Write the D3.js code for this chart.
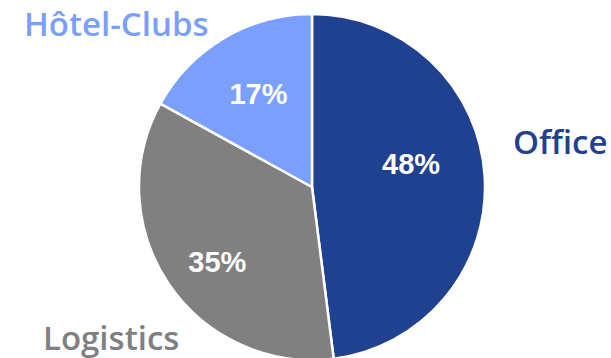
<!DOCTYPE html>
<html>
<head>
<meta charset="utf-8">
<script src="https://cdn.jsdelivr.net/npm/d3@7"></script>
<style>
  html, body { margin: 0; padding: 0; background: #fff; overflow: hidden; }
  svg { display: block; }
</style>
</head>
<body>
<svg id="chart" width="611" height="358"></svg>
<script>
// Portfolio split by asset class
const categories = ["Office", "Logistics", "Hôtel-Clubs"];
const shares = [48, 35, 17];
const sliceColors = ["#1f4190", "#808080", "#7b9fff"];

const width = 611, height = 358;
const cx = 312, cy = 187, radius = 173;

const svg = d3.select("#chart");
const g = svg.append("g").attr("transform", `translate(${cx},${cy})`);

const pie = d3.pie().sort(null).value(d => d.value);
const arcs = pie(categories.map((c, i) => ({ name: c, value: shares[i], color: sliceColors[i] })));

const arc = d3.arc().innerRadius(0).outerRadius(radius);

g.selectAll("path.slice")
  .data(arcs)
  .join("path")
  .attr("class", "slice")
  .attr("d", arc)
  .attr("fill", d => d.data.color)
  .attr("stroke", "#fff")
  .attr("stroke-width", 2.5)
  .attr("stroke-linejoin", "round");

// Percentage labels inside each slice, nudged from the slice centroid
const labelArc = d3.arc().innerRadius(radius * 0.62).outerRadius(radius * 0.62);
const pctOffsets = { "Office": [-8, -17], "Logistics": [-6, 14], "Hôtel-Clubs": [1, -1] };
g.selectAll("text.pct")
  .data(arcs)
  .join("text")
  .attr("class", "pct")
  .attr("x", d => labelArc.centroid(d)[0] + pctOffsets[d.data.name][0])
  .attr("y", d => labelArc.centroid(d)[1] + pctOffsets[d.data.name][1])
  .attr("dy", "0.36em")
  .attr("text-anchor", "middle")
  .attr("fill", "#fff")
  .attr("font-family", "Arial, 'Liberation Sans', sans-serif")
  .attr("font-weight", "bold")
  .attr("font-size", 29)
  .text(d => d.data.value + "%");

// Category names outside the pie
const namePos = {
  "Office": { x: 513, y: 154 },
  "Logistics": { x: 43, y: 350 },
  "Hôtel-Clubs": { x: 24, y: 36 }
};
svg.selectAll("text.name")
  .data(arcs)
  .join("text")
  .attr("class", "name")
  .attr("x", d => namePos[d.data.name].x)
  .attr("y", d => namePos[d.data.name].y)
  .attr("fill", d => d.data.color)
  .attr("font-family", "'Open Sans', 'Noto Sans', sans-serif")
  .attr("font-weight", 600)
  .attr("font-size", 33)
  .text(d => d.data.name);
</script>
</body>
</html>
